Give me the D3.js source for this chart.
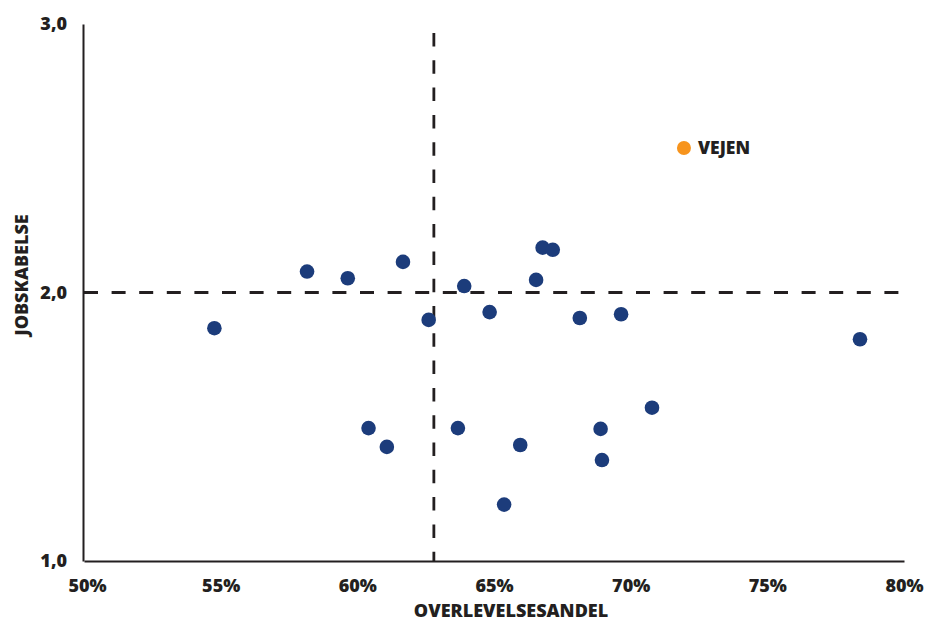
<!DOCTYPE html>
<html>
<head>
<meta charset="utf-8">
<script src="https://cdn.jsdelivr.net/npm/d3@7"></script>
<style>
  body { margin: 0; background: #fff; }
  text { font-family: "Open Sans", Lato, sans-serif; font-weight: 800; fill: #231f20; }
</style>
</head>
<body>
<svg id="chart1"></svg>
<script>
let w = 926;
let h = 622;

// overlevelsesandel (share) and jobskabelse per kommune
let shares = [0.5477, 0.5816, 0.5965, 0.6167, 0.6261, 0.6391, 0.6484, 0.6654, 0.6678, 0.6715,
              0.6814, 0.6965, 0.7839, 0.6041, 0.6108, 0.6368, 0.6596, 0.6537, 0.6890, 0.6895, 0.7078];
let jobs = [1.867, 2.078, 2.053, 2.114, 1.898, 2.024, 1.927, 2.047, 2.167, 2.159,
            1.905, 1.919, 1.826, 1.495, 1.425, 1.495, 1.432, 1.210, 1.492, 1.376, 1.571];
let highlightName = 'VEJEN';
let highlight = [0.7195, 2.538];

let refShare = 0.628;
let refJobs = 2.0;

let xTicks = [0.5, 0.55, 0.6, 0.65, 0.7, 0.75, 0.8];
let yTicks = [1, 2, 3];

let svg, xScale, yScale;

function initGraph() {
  let dataset = shares.map((s, i) => ({ share: s, jobs: jobs[i] }));

  svg = d3.select('#chart1')
    .attr('width', w)
    .attr('height', h);

  xScale = d3.scaleLinear()
    .domain([0.5, 0.8])
    .range([84, 904]);

  yScale = d3.scaleLinear()
    .domain([1, 3])
    .range([561, 24]);

  let comma = d3.formatLocale({ decimal: ',', thousands: '.', grouping: [3], currency: ['', ''] });

  let xAxis = d3.axisBottom(xScale)
    .tickValues(xTicks)
    .tickSize(0)
    .tickPadding(18)
    .tickFormat(d3.format('.0%'));

  let yAxis = d3.axisLeft(yScale)
    .tickValues(yTicks)
    .tickSize(0)
    .tickPadding(16)
    .tickFormat(comma.format('.1f'));

  let xAxisGroup = svg.append('g')
    .attr('class', 'axis')
    .attr('transform', `translate(0, 561)`)
    .call(xAxis);

  let yAxisGroup = svg.append('g')
    .attr('class', 'axis-left')
    .attr('transform', `translate(83, 0)`)
    .call(yAxis);

  [xAxisGroup, yAxisGroup].forEach(g => {
    g.select('.domain').attr('stroke', '#231f20').attr('stroke-width', 2);
    g.selectAll('text')
      .attr('font-size', 18)
      .attr('fill', '#231f20')
      .style('font-family', '"Open Sans", sans-serif')
      .style('font-weight', 800);
  });
  yAxisGroup.selectAll('text').attr('dy', '0.32em');
  xAxisGroup.selectAll('text').attr('dx', d => d === 0.5 ? 3 : 0);

  // dashed reference lines
  svg.append('line')
    .attr('x1', xScale(0.5)).attr('x2', xScale(0.8))
    .attr('y1', yScale(refJobs)).attr('y2', yScale(refJobs))
    .attr('stroke', '#231f20')
    .attr('stroke-width', 2.8)
    .attr('stroke-dasharray', '14,13.6');

  svg.append('line')
    .attr('x1', xScale(refShare)).attr('x2', xScale(refShare))
    .attr('y1', 33).attr('y2', yScale(1))
    .attr('stroke', '#231f20')
    .attr('stroke-width', 2.8)
    .attr('stroke-dasharray', '13.5,13.8');

  svg.selectAll('circle.dot')
    .data(dataset)
    .enter()
    .append('circle')
    .attr('class', 'dot')
    .attr('cx', d => xScale(d.share))
    .attr('cy', d => yScale(d.jobs))
    .attr('r', 7.3)
    .attr('fill', '#1c3c7b');

  svg.append('circle')
    .attr('cx', xScale(highlight[0]))
    .attr('cy', yScale(highlight[1]))
    .attr('r', 7)
    .attr('fill', '#f7941d');

  svg.append('text')
    .attr('x', xScale(highlight[0]) + 14)
    .attr('y', yScale(highlight[1]))
    .attr('dy', '0.36em')
    .attr('font-size', 17.5)
    .text(highlightName);

  // axis titles
  svg.append('text')
    .attr('x', 511)
    .attr('y', 617)
    .attr('text-anchor', 'middle')
    .attr('font-size', 18)
    .text('OVERLEVELSESANDEL');

  svg.append('text')
    .attr('transform', 'translate(28, 275) rotate(-90)')
    .attr('text-anchor', 'middle')
    .attr('font-size', 18)
    .text('JOBSKABELSE');
}

window.onload = initGraph;
</script>
</body>
</html>
